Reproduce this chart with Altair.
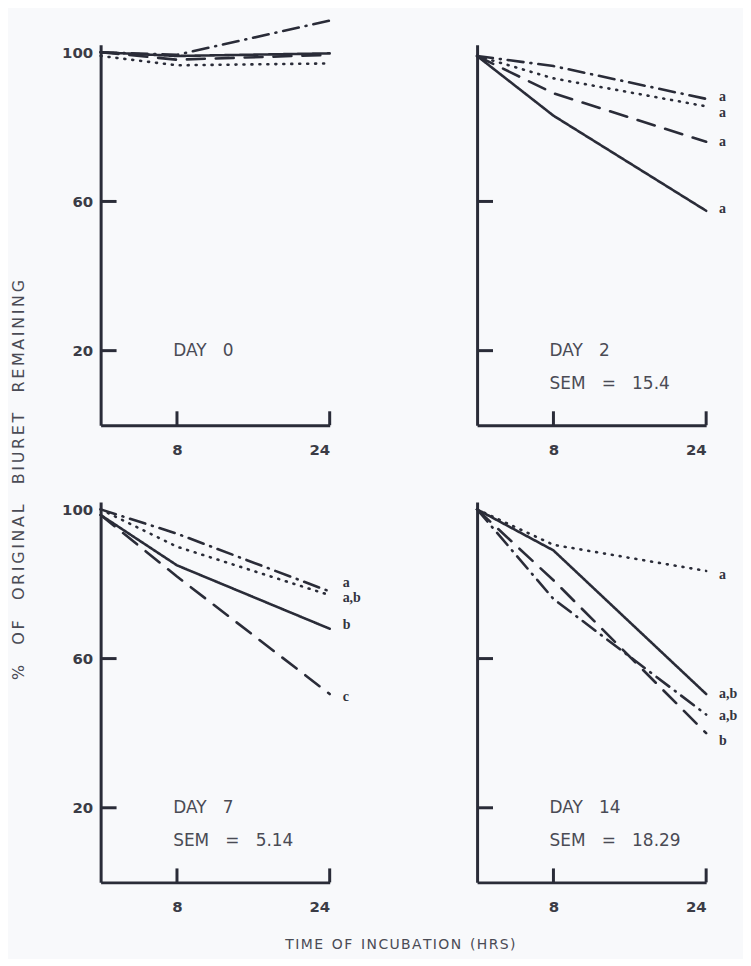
import altair as alt
import pandas as pd

# ---------------- data ----------------
hours = [0, 8, 24]
day_names = ["DAY 0", "DAY 2", "DAY 7", "DAY 14"]
sem_values = ["", "15.4", "5.14", "18.29"]

solid_vals = [[100, 99, 99.7], [99, 83, 57.5], [98.5, 85, 68], [100, 89, 50.5]]
dashed_vals = [[100, 98, 99.3], [99, 89, 76], [98.5, 82, 50.5], [100, 81, 40]]
dotted_vals = [[99, 96.5, 97], [99, 93, 85.5], [100, 90, 77], [100, 90.5, 83.5]]
dashdot_vals = [[100, 99.3, 108.5], [99, 96.3, 87.5], [100, 93.5, 78], [100, 76, 45]]

letters = [[], ["a", "a", "a", "a"], ["a", "a,b", "b", "c"], ["a", "a,b", "a,b", "b"]]
letter_y = [[], [88, 83.6, 76, 58], [80.3, 76.2, 69, 49.7], [82.5, 50.5, 44.7, 37.8]]

x_ticks = [8, 24]
y_ticks = [20, 60]
y_labels = [20, 60, 100]

series_names = ["solid", "dashed", "dotted", "dashdot"]

y_title = "% OF ORIGINAL BIURET REMAINING"
x_title = "TIME OF INCUBATION (HRS)"

# ---------------- style ----------------
W, H = 230, 382
INK = "#2a2c38"
TXT = "#4a4b55"
FONT = "DejaVu Sans"
NB = "\u00a0"


def spaced(s, letter_gap="\u2006", word_gap=NB * 4):
    words = s.split(" ")
    return word_gap.join(letter_gap.join(list(w)) for w in words)


dash_scale = alt.Scale(
    domain=series_names,
    range=[[1, 0], [18, 11], [1, 7], [16, 7, 1, 7]],
)

xscale = alt.Scale(domain=[0, 24], nice=False, zero=False)
yscale = alt.Scale(domain=[0, 102], nice=False)


def panel(i, left):
    rows = []
    for name, vals in zip(series_names, [solid_vals, dashed_vals, dotted_vals, dashdot_vals]):
        for h, v in zip(hours, vals[i]):
            rows.append({"hour": h, "value": v, "series": name})
    df = pd.DataFrame(rows)

    xaxis = alt.Axis(values=x_ticks, title=None, grid=False, ticks=False,
                     domainWidth=3, domainColor=INK, labelPadding=17,
                     labelFont=FONT, labelFontWeight="bold", labelFontSize=15,
                     labelColor="#3b3c46")
    if left:
        yaxis = alt.Axis(values=y_labels, title=None, grid=False, ticks=False,
                         domainWidth=3, domainColor=INK, labelPadding=8,
                         labelFont=FONT, labelFontWeight="bold", labelFontSize=15,
                         labelColor="#3b3c46")
    else:
        yaxis = alt.Axis(values=y_labels, title=None, grid=False, ticks=False,
                         labels=False, domainWidth=3, domainColor=INK)

    lines = alt.Chart(df).mark_line(color=INK, strokeWidth=2.6, strokeCap="round").encode(
        x=alt.X("hour:Q", scale=xscale, axis=xaxis),
        y=alt.Y("value:Q", scale=yscale, axis=yaxis),
        strokeDash=alt.StrokeDash("series:N", scale=dash_scale, legend=None),
        detail="series:N",
    )

    xt = alt.Chart(pd.DataFrame({"t": x_ticks})).mark_rule(color=INK, strokeWidth=3).encode(
        x=alt.X("t:Q", scale=xscale),
        y=alt.value(H),
        y2=alt.value(H - 14),
    )
    yt = alt.Chart(pd.DataFrame({"t": y_ticks})).mark_rule(color=INK, strokeWidth=3).encode(
        y=alt.Y("t:Q", scale=yscale),
        x=alt.value(0),
        x2=alt.value(16),
    )

    day = alt.Chart(pd.DataFrame({"d": [day_names[i].replace(" ", NB * 3)]})).mark_text(
        align="left", baseline="middle", font=FONT, fontSize=17, color=TXT
    ).encode(x=alt.datum(7.6), y=alt.datum(20), text="d:N")

    layers = [lines, xt, yt, day]

    if sem_values[i]:
        sem = alt.Chart(pd.DataFrame({"s": ["SEM" + NB * 3 + "=" + NB * 3 + sem_values[i]]})).mark_text(
            align="left", baseline="middle", font=FONT, fontSize=17, color=TXT
        ).encode(x=alt.datum(7.6), y=alt.datum(11), text="s:N")
        layers.append(sem)

    if letters[i]:
        lab = alt.Chart(pd.DataFrame({"l": letters[i], "y": letter_y[i]})).mark_text(
            align="left", baseline="middle", dx=13, font="Liberation Serif",
            fontWeight="bold", fontSize=14, color="#33343e"
        ).encode(x=alt.datum(24), y=alt.Y("y:Q", scale=yscale), text="l:N")
        layers.append(lab)

    if i == 0:
        ytitle = alt.Chart(pd.DataFrame({"t": [spaced(y_title)]})).mark_text(
            angle=270, align="center", baseline="middle", font=FONT, fontSize=16, color=TXT
        ).encode(x=alt.value(-82), y=alt.value(437), text="t:N")
        layers.append(ytitle)
    if i == 2:
        xtitle = alt.Chart(pd.DataFrame({"t": [spaced(x_title, letter_gap="\u200a", word_gap=NB * 2)]})).mark_text(
            align="center", baseline="middle", font=FONT, fontSize=14, color=TXT
        ).encode(x=alt.value(301), y=alt.value(H + 63), text="t:N")
        layers.append(xtitle)

    return alt.layer(*layers).properties(width=W, height=H)


chart = alt.concat(
    panel(0, True), panel(1, False), panel(2, True), panel(3, False),
    columns=2,
    spacing={"row": 77, "column": 148},
    bounds="flush",
).properties(
    background="#f8f9fb",
    padding={"left": 3, "top": 5, "right": 5, "bottom": 5},
).configure_view(stroke=None)

chart.save("out.html", embed_options={"renderer": "svg", "actions": False})
